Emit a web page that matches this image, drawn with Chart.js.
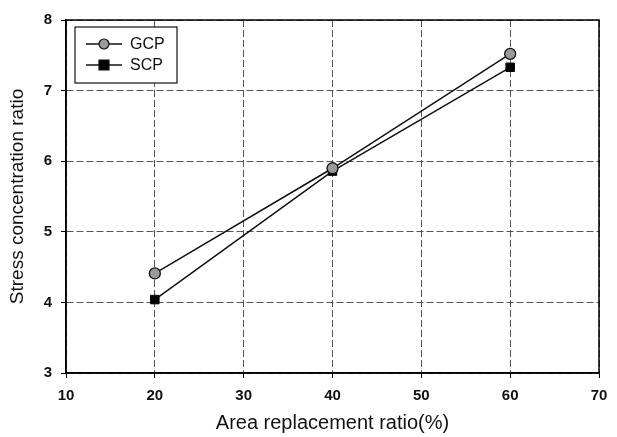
<!DOCTYPE html>
<html>
<head>
<meta charset="utf-8">
<script src="https://cdn.jsdelivr.net/npm/chart.js@4"></script>
<style>
  html, body { margin: 0; padding: 0; background: #fff; }
  #wrap { width: 617px; height: 437px; }
</style>
</head>
<body>
<div id="wrap"><canvas id="myChart" width="617" height="437"></canvas></div>
<script>
// values
const areaRatio = [20, 40, 60];
const gcp = [4.41, 5.9, 7.52];
const scp = [4.04, 5.86, 7.33];
const xTicks = [10, 20, 30, 40, 50, 60, 70];
const yTicks = [3, 4, 5, 6, 7, 8];

const FONT = '"Liberation Sans", Arial, sans-serif';

// little boxed legend sitting in the top left of the plot
const boxLegend = {
    id: 'boxLegend',
    afterDraw(chart) {
        const c = chart.ctx;
        const a = chart.chartArea;
        const x0 = a.left + 9, y0 = a.top + 7, w = 102, h = 56;
        c.save();
        c.fillStyle = '#fff';
        c.fillRect(x0, y0, w, h);
        c.strokeStyle = '#111';
        c.lineWidth = 1.2;
        c.strokeRect(x0, y0, w, h);
        chart.data.datasets.forEach((ds, i) => {
            const y = y0 + 17 + i * 21;
            c.strokeStyle = '#111';
            c.lineWidth = 1.5;
            c.beginPath();
            c.moveTo(x0 + 11, y);
            c.lineTo(x0 + 47, y);
            c.stroke();
            c.fillStyle = ds.pointBackgroundColor;
            c.beginPath();
            if (ds.pointStyle === 'rect') {
                c.rect(x0 + 24, y - 5, 10, 10);
            } else {
                c.arc(x0 + 29, y, 5, 0, Math.PI * 2);
            }
            c.fill();
            c.lineWidth = 1.2;
            c.stroke();
            c.fillStyle = '#111';
            c.font = '16px ' + FONT;
            c.textBaseline = 'middle';
            c.fillText(ds.label, x0 + 55, y + 1);
        });
        c.restore();
    }
};

const ctx = document.getElementById('myChart');

let chart = new Chart(ctx, {
    type: 'line',
    data: {
        datasets: [{
            label: 'GCP',
            data: areaRatio.map((x, i) => ({ x: x, y: gcp[i] })),
            borderColor: '#111',
            borderWidth: 1.5,
            pointStyle: 'circle',
            pointRadius: 5.5,
            pointBackgroundColor: '#9a9a9a',
            pointBorderColor: '#111',
            pointBorderWidth: 1.3
        },
        {
            label: 'SCP',
            data: areaRatio.map((x, i) => ({ x: x, y: scp[i] })),
            borderColor: '#111',
            borderWidth: 1.5,
            pointStyle: 'rect',
            pointRadius: 6,
            pointBackgroundColor: '#000',
            pointBorderColor: '#000',
            pointBorderWidth: 1
        }]
    },
    options: {
        responsive: false,
        animation: false,
        layout: { padding: { top: 20, right: 18, left: 0, bottom: 0 } },
        scales: {
            x: {
                type: 'linear',
                min: 10,
                max: 70,
                afterBuildTicks: (s) => { s.ticks = xTicks.map(v => ({ value: v })); },
                afterFit: (s) => { s.height = 64; },
                border: { display: true, color: '#000', width: 1.5, dash: [7, 3] },
                grid: {
                    color: '#555',
                    lineWidth: 1,
                    tickLength: 5,
                    tickColor: '#000'
                },
                ticks: {
                    color: '#111',
                    font: { family: FONT, size: 15, weight: 'bold' },
                    padding: 9
                },
                title: {
                    display: true,
                    text: 'Area replacement ratio(%)',
                    color: '#111',
                    font: { family: FONT, size: 20, lineHeight: 1 },
                    padding: { top: 1 }
                }
            },
            y: {
                min: 3,
                max: 8,
                afterBuildTicks: (s) => { s.ticks = yTicks.map(v => ({ value: v })); },
                afterFit: (s) => { s.width = 66; },
                border: { display: true, color: '#000', width: 1.5, dash: [7, 3] },
                grid: {
                    color: '#555',
                    lineWidth: 1,
                    tickLength: 5,
                    tickColor: '#000'
                },
                ticks: {
                    color: '#111',
                    font: { family: FONT, size: 15, weight: 'bold' },
                    padding: 9
                },
                title: {
                    display: true,
                    text: 'Stress concentration ratio',
                    color: '#111',
                    font: { family: FONT, size: 19 },
                    padding: { top: 6, bottom: 0 }
                }
            }
        },
        plugins: {
            legend: { display: false },
            tooltip: { enabled: false }
        }
    },
    plugins: [{
        id: 'frame',
        afterDatasetsDraw(chart) {
            const a = chart.chartArea;
            const c = chart.ctx;
            c.save();
            c.strokeStyle = '#000';
            c.lineWidth = 1.5;
            c.setLineDash([]);
            c.strokeRect(a.left, a.top, a.right - a.left, a.bottom - a.top);
            c.restore();
        }
    }, boxLegend]
});
</script>
</body>
</html>
